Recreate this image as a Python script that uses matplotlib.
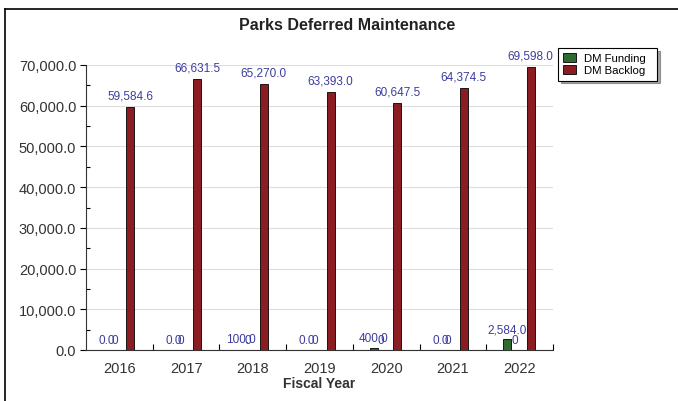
import numpy as np
import matplotlib.pyplot as plt
from matplotlib.lines import Line2D

plt.rcParams['font.family'] = ['Liberation Sans', 'DejaVu Sans']

years = ["2016", "2017", "2018", "2019", "2020", "2021", "2022"]
dm_funding = [0.0, 0.0, 100.0, 0.0, 400.0, 0.0, 2584.0]
dm_backlog = [59584.6, 66631.5, 65270.0, 63393.0, 60647.5, 64374.5, 69598.0]
extra_zero = [0, 0, 0, 0, 0, 0, 0]   # stray "0" labels drawn by the original chart tool

green = "#2f6b30"
red = "#8b1c22"
lbl_col = "#3c3ca0"

fig = plt.figure(figsize=(6.78, 4.02), dpi=100)
ax = fig.add_axes([86 / 678, 1 - 351 / 402, (553 - 86) / 678, (351 - 66) / 402])

x = np.arange(len(years))
w = 0.12
off_f, off_b = -0.185, 0.165

bf = ax.bar(x + off_f, dm_funding, w, color=green, edgecolor="black", linewidth=0.6, zorder=3)
bb = ax.bar(x + off_b, dm_backlog, w, color=red, edgecolor="black", linewidth=0.6, zorder=3)

# value labels
for xi, v in zip(x, dm_funding):
    ax.annotate(f"{v:,.1f}", (xi + off_f, v), xytext=(0, 3), textcoords="offset points",
                ha="center", va="bottom", fontsize=8.5, color=lbl_col, clip_on=False)
for xi, v in zip(x, extra_zero):
    ax.annotate(f"{v}", (xi + off_f + 0.11, v), xytext=(0, 3), textcoords="offset points",
                ha="center", va="bottom", fontsize=8.5, color=lbl_col, clip_on=False)
for xi, v in zip(x, dm_backlog):
    ax.annotate(f"{v:,.1f}", (xi + off_b, v), xytext=(0, 4), textcoords="offset points",
                ha="center", va="bottom", fontsize=8.5, color=lbl_col, clip_on=False,
                annotation_clip=False)

ax.set_xlim(-0.5, len(years) - 0.5)
ax.set_ylim(0, 70000)

ax.set_xticks(x)
ax.set_xticklabels(years, fontsize=10.5, color="#333333")
ax.set_xticks(np.arange(0.5, len(years), 1.0), minor=True)
ax.tick_params(axis="x", which="major", length=0, pad=8)
ax.tick_params(axis="x", which="minor", direction="in", length=4, width=0.8)

ax.set_yticks(np.arange(0, 70001, 10000))
ax.set_yticklabels([f"{t:,.1f}" for t in np.arange(0, 70001, 10000)], fontsize=10.5, color="#333333")
ax.set_yticks(np.arange(5000, 70000, 10000), minor=True)
ax.tick_params(axis="y", which="major", direction="out", length=4, width=0.8, pad=3)
ax.tick_params(axis="y", which="minor", direction="in", length=3, width=0.8)

ax.grid(axis="y", color="#dddddd", linewidth=0.8, zorder=0)
for s in ["top", "right"]:
    ax.spines[s].set_visible(False)
ax.spines["left"].set_color("#333333")
ax.spines["bottom"].set_color("#333333")

ax.set_xlabel("Fiscal Year", fontsize=10, fontweight="bold", color="#333333", labelpad=1)

fig.text(347 / 678, 1 - 26 / 402, "Parks Deferred Maintenance", ha="center", va="center",
         fontsize=11.5, fontweight="bold", color="#222222")

leg = fig.legend([bf, bb], ["DM Funding  ", "DM Backlog  "], loc="upper left",
                 bbox_to_anchor=(558 / 678, 1 - 49 / 402), fontsize=8.2, frameon=True,
                 fancybox=False, shadow=True, handlelength=1.1, handleheight=0.8,
                 handletextpad=0.7, borderpad=0.45, labelspacing=0.15, borderaxespad=0)
leg.get_frame().set_edgecolor("black")
leg.get_frame().set_linewidth(0.8)

# outer frame (top and left only)
fig.add_artist(Line2D([5 / 678, 1], [1 - 10 / 402, 1 - 10 / 402], color="black", linewidth=1.2))
fig.add_artist(Line2D([5 / 678, 5 / 678], [0, 1 - 10 / 402], color="black", linewidth=1.2))

fig.savefig("out.png", dpi=100)
